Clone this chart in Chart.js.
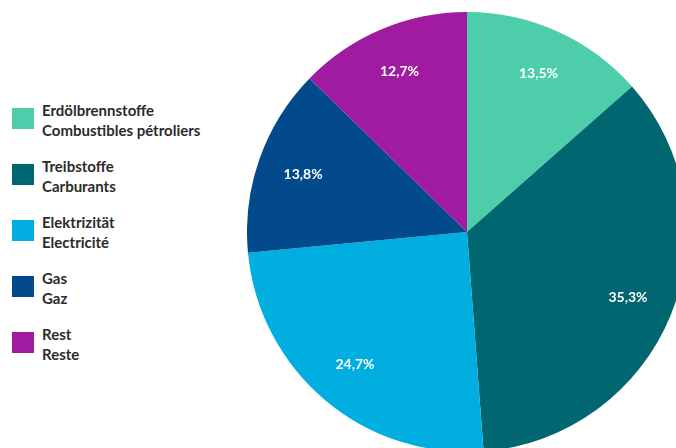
<!DOCTYPE html>
<html>
<head>
<meta charset="utf-8">
<script src="https://cdn.jsdelivr.net/npm/chart.js@4/dist/chart.umd.min.js"></script>
<style>
  html, body { margin: 0; padding: 0; background: #fff; }
  body { width: 676px; height: 448px; overflow: hidden; position: relative; font-family: Lato, 'Noto Sans', sans-serif; }
  #pieWrap { position: absolute; left: 247px; top: 12px; width: 440px; height: 440px; }
  #legend { position: absolute; left: 12px; top: 100px; }
  .item { position: relative; height: 56px; }
  .box { position: absolute; left: 0; top: 8px; width: 22px; height: 21px; }
  .txt { position: absolute; left: 30px; top: 0; font-size: 15px; font-weight: 700; line-height: 20px; color: #2b2b2b; white-space: nowrap; }
</style>
</head>
<body>
<div id="legend"></div>
<div id="pieWrap"><canvas id="pie"></canvas></div>
<script>
'use strict';

// ── Data ──────────────────────────────────────────────
const labelsDE = ['Erdölbrennstoffe', 'Treibstoffe', 'Elektrizität', 'Gas', 'Rest'];
const labelsFR = ['Combustibles pétroliers', 'Carburants', 'Electricité', 'Gaz', 'Reste'];
const shares   = [13.5, 35.3, 24.7, 13.8, 12.7];
const colors   = ['#4ecdab', '#006670', '#00aee0', '#034a8c', '#a01b9f'];

// ── HTML legend (two-line labels) ─────────────────────
const legendEl = document.getElementById('legend');
labelsDE.forEach((de, i) => {
  const item = document.createElement('div');
  item.className = 'item';
  item.innerHTML = `<div class="box" style="background:${colors[i]}"></div>` +
                   `<div class="txt">${de}<br>${labelsFR[i]}</div>`;
  legendEl.appendChild(item);
});

// ── Percent labels inside slices ──────────────────────
const sliceLabels = {
  id: 'sliceLabels',
  afterDatasetsDraw(chart) {
    const { ctx } = chart;
    const meta = chart.getDatasetMeta(0);
    ctx.save();
    ctx.fillStyle = '#fff';
    ctx.font = 'bold 14px Lato, "Noto Sans", sans-serif';
    ctx.textAlign = 'center';
    ctx.textBaseline = 'middle';
    meta.data.forEach((arc, i) => {
      const mid = (arc.startAngle + arc.endAngle) / 2;
      const r = arc.outerRadius * 0.79;
      const x = arc.x + Math.cos(mid) * r;
      const y = arc.y + Math.sin(mid) * r;
      ctx.fillText(shares[i].toFixed(1).replace('.', ',') + '%', x, y);
    });
    ctx.restore();
  }
};

new Chart(document.getElementById('pie'), {
  type: 'pie',
  data: {
    labels: labelsDE,
    datasets: [{
      data: shares,
      backgroundColor: colors,
      borderWidth: 0,
    }],
  },
  options: {
    responsive: true,
    maintainAspectRatio: false,
    animation: false,
    layout: { padding: 0 },
    plugins: {
      legend: { display: false },
      tooltip: { enabled: false },
    },
  },
  plugins: [sliceLabels],
});
</script>
</body>
</html>
